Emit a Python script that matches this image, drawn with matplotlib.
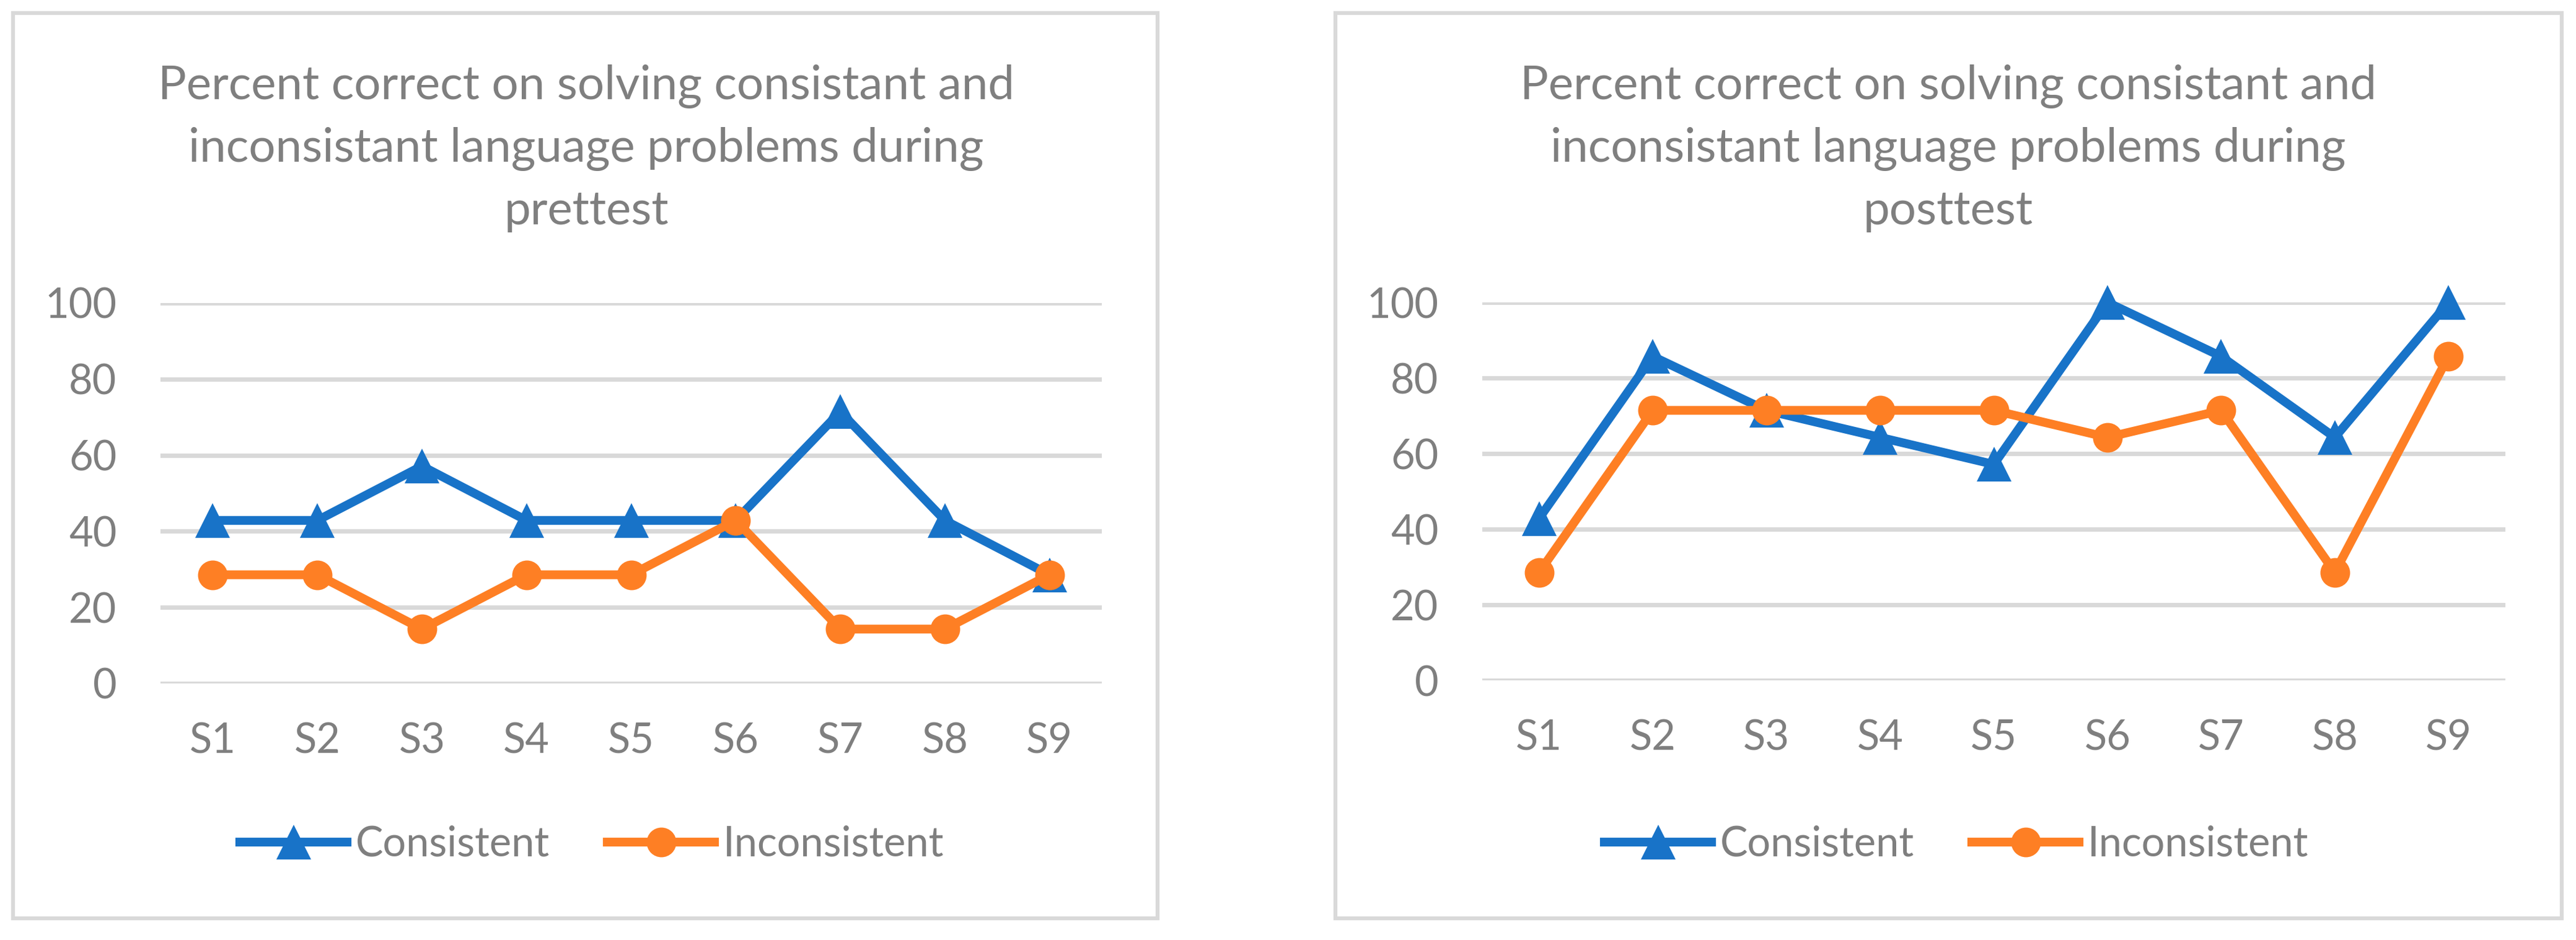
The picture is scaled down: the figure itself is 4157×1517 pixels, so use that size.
import matplotlib
matplotlib.use("Agg")
import matplotlib.pyplot as plt
from matplotlib.patches import Rectangle

# data (percent correct)
students = ["S1", "S2", "S3", "S4", "S5", "S6", "S7", "S8", "S9"]
pre_consistent = [42.86, 42.86, 57.14, 42.86, 42.86, 42.86, 71.43, 42.86, 28.57]
pre_inconsistent = [28.57, 28.57, 14.29, 28.57, 28.57, 42.86, 14.29, 14.29, 28.57]
post_consistent = [42.86, 85.71, 71.43, 64.29, 57.14, 100.0, 85.71, 64.29, 100.0]
post_inconsistent = [28.57, 71.43, 71.43, 71.43, 71.43, 64.29, 71.43, 28.57, 85.71]
yticks = [0, 20, 40, 60, 80, 100]
titles = [
    ["Percent correct on solving consistant and",
     "inconsistant language problems during", "prettest"],
    ["Percent correct on solving consistant and",
     "inconsistant language problems during", "posttest"],
]
series_names = ["Consistent", "Inconsistent"]

BLUE = "#1873C8"
ORANGE = "#FE7F24"
GRID = "#D9D9D9"
TEXT = "#7F7F7F"
FONT = "Lato"

W, H = 4157, 1517
DPI = 300
fig = plt.figure(figsize=(W / DPI, H / DPI), dpi=DPI)
plt.rcParams["font.family"] = FONT


def fx(px):
    return px / W


def fy(py):
    return 1 - py / H


# panel layouts in pixel coords: box, plot area, title centre, legend centre
panels = [
    dict(box=(21, 21, 1868, 1482), plot=(259, 489, 1778, 1103), cx=946, legx=955,
         cons=pre_consistent, inc=pre_inconsistent, title=titles[0]),
    dict(box=(2155, 21, 4134, 1482), plot=(2392, 488, 4043, 1098), cx=3144, legx=3157,
         cons=post_consistent, inc=post_inconsistent, title=titles[1]),
]

x = list(range(1, len(students) + 1))

for p in panels:
    bx0, by0, bx1, by1 = p["box"]
    fig.patches.append(Rectangle((fx(bx0), fy(by1)), fx(bx1 - bx0), (by1 - by0) / H,
                                 transform=fig.transFigure, fill=False,
                                 edgecolor=GRID, linewidth=1.5, zorder=0))

    px0, py0, px1, py1 = p["plot"]
    ax = fig.add_axes([fx(px0), fy(py1), fx(px1 - px0), (py1 - py0) / H])
    ax.set_xlim(0.5, len(students) + 0.5)
    ax.set_ylim(0, 100)
    for v in yticks:
        ax.axhline(v, color=GRID, linewidth=1.7, zorder=1)
    l1, = ax.plot(x, p["cons"], color=BLUE, linewidth=3.4, marker="^", markersize=13.5,
                  markeredgewidth=0, zorder=3, clip_on=False, solid_joinstyle="miter")
    l2, = ax.plot(x, p["inc"], color=ORANGE, linewidth=3.4, marker="o", markersize=11.5,
                  markeredgewidth=0, zorder=4, clip_on=False)

    ax.set_xticks(x)
    ax.set_xticklabels(students)
    ax.set_yticks(yticks)
    ax.tick_params(length=0, labelsize=16, colors=TEXT)
    ax.tick_params(axis="y", pad=17)
    ax.tick_params(axis="x", pad=15)
    for s in ax.spines.values():
        s.set_visible(False)
    ax.set_facecolor("none")

    for i, line in enumerate(p["title"]):
        fig.text(fx(p["cx"]), fy(160 + 101 * i), line, ha="center", va="baseline",
                 fontsize=18.3, color=TEXT)

    leg = fig.legend([l1, l2], series_names, loc="center",
                     bbox_to_anchor=(fx(p["legx"]), fy(1363)), ncol=2, frameon=False,
                     fontsize=16, handlelength=2.6, handletextpad=0.2,
                     columnspacing=1.4, labelcolor=TEXT)

fig.savefig("out.png", dpi=DPI)
